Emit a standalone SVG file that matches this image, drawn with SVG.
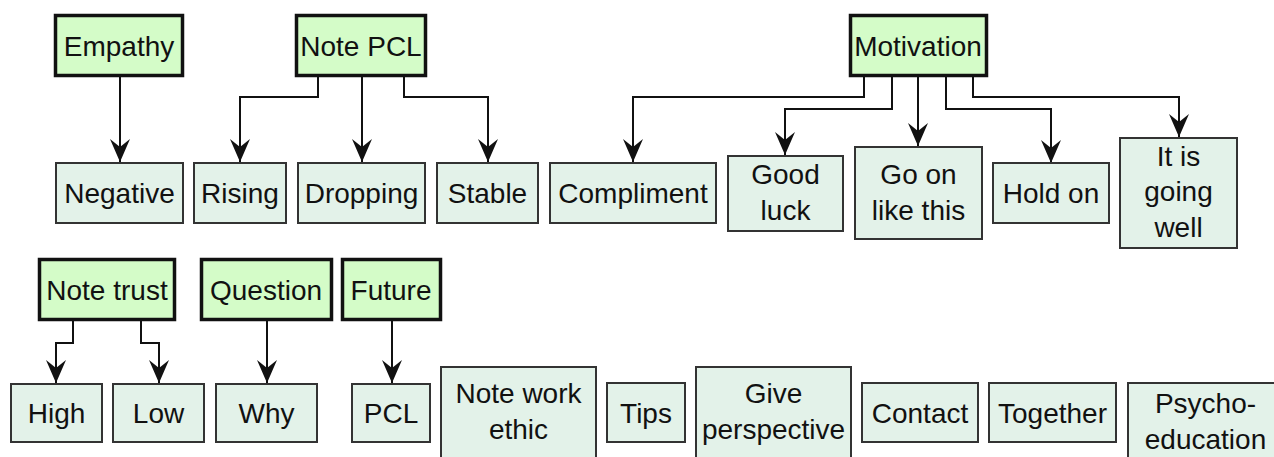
<svg xmlns="http://www.w3.org/2000/svg" width="1274" height="457" viewBox="0 0 1274 457">
<defs>
<style>
.top rect{fill:#d4fcc8;stroke:#111;stroke-width:3.5}
.leaf rect{fill:#e3f2e9;stroke:#333;stroke-width:2}
text{font-family:"Liberation Sans",Arial,sans-serif;font-size:28px;fill:#111;text-anchor:middle}
.conn path{fill:none;stroke:#111;stroke-width:2;marker-end:url(#arr)}
</style>
<marker id="arr" markerUnits="userSpaceOnUse" markerWidth="26" markerHeight="22" viewBox="-24 -11 26 22" refX="0" refY="0" orient="auto">
<path d="M0,0 L-23,-10 L-15,0 L-23,10 Z" fill="#111"/>
</marker>
</defs>
<rect width="1274" height="457" fill="#fff"/>
<g id="connectors" class="conn">
<path d="M120,77 V162"/>
<path d="M318,77 V97 H240 V162"/>
<path d="M362,77 V162"/>
<path d="M404,77 V97 H488 V162"/>
<path d="M864,77 V97 H633 V162"/>
<path d="M892,77 V109 H785 V155"/>
<path d="M918,77 V146"/>
<path d="M946,77 V109 H1051 V163"/>
<path d="M973,77 V97 H1179 V137"/>
<path d="M73,321 V343 H56 V383"/>
<path d="M141,321 V343 H159 V383"/>
<path d="M267,321 V383"/>
<path d="M392,321 V383"/>
</g>
<g id="empathy" class="top"><rect x="55.5" y="15.5" width="127" height="60"/><text x="119" y="56">Empathy</text></g>
<g id="note-pcl" class="top"><rect x="296.5" y="15.5" width="129" height="60"/><text x="361" y="56">Note PCL</text></g>
<g id="motivation" class="top"><rect x="850.5" y="15.5" width="136" height="60"/><text x="918" y="56">Motivation</text></g>
<g id="note-trust" class="top"><rect x="39.5" y="259.5" width="135" height="60"/><text x="107" y="300">Note trust</text></g>
<g id="question" class="top"><rect x="201.5" y="259.5" width="130" height="60"/><text x="266" y="300">Question</text></g>
<g id="future" class="top"><rect x="342.5" y="259.5" width="98" height="60"/><text x="391" y="300">Future</text></g>

<g id="negative" class="leaf"><rect x="56" y="163" width="127" height="60"/><text x="119.5" y="203">Negative</text></g>
<g id="rising" class="leaf"><rect x="194" y="163" width="92" height="60"/><text x="240" y="203">Rising</text></g>
<g id="dropping" class="leaf"><rect x="298" y="163" width="127" height="60"/><text x="361.5" y="203">Dropping</text></g>
<g id="stable" class="leaf"><rect x="437" y="163" width="101" height="60"/><text x="487.5" y="203">Stable</text></g>
<g id="compliment" class="leaf"><rect x="550" y="163" width="166" height="60"/><text x="633" y="203">Compliment</text></g>
<g id="good-luck" class="leaf"><rect x="728" y="156" width="115" height="75"/><text x="785.5" y="184">Good</text><text x="785.5" y="220">luck</text></g>
<g id="go-on" class="leaf"><rect x="855" y="147" width="127" height="92"/><text x="918.5" y="184">Go on</text><text x="918.5" y="220">like this</text></g>
<g id="hold-on" class="leaf"><rect x="993" y="163" width="116" height="60"/><text x="1051" y="203">Hold on</text></g>
<g id="going-well" class="leaf"><rect x="1120" y="138" width="117" height="110"/><text x="1178.5" y="166">It is</text><text x="1178.5" y="201">going</text><text x="1178.5" y="237">well</text></g>

<g id="high" class="leaf"><rect x="11" y="384" width="91" height="58"/><text x="56.5" y="423">High</text></g>
<g id="low" class="leaf"><rect x="113" y="384" width="91" height="58"/><text x="158.5" y="423">Low</text></g>
<g id="why" class="leaf"><rect x="216" y="384" width="101" height="58"/><text x="266.5" y="423">Why</text></g>
<g id="pcl" class="leaf"><rect x="352" y="384" width="78" height="58"/><text x="391" y="423">PCL</text></g>
<g id="note-work-ethic" class="leaf"><rect x="441" y="367" width="155" height="95"/><text x="518.5" y="403">Note work</text><text x="518.5" y="439">ethic</text></g>
<g id="tips" class="leaf"><rect x="607" y="383" width="78" height="59"/><text x="646" y="423">Tips</text></g>
<g id="give-perspective" class="leaf"><rect x="696" y="367" width="155" height="95"/><text x="773.5" y="403">Give</text><text x="773.5" y="439">perspective</text></g>
<g id="contact" class="leaf"><rect x="862" y="383" width="116" height="59"/><text x="920" y="423">Contact</text></g>
<g id="together" class="leaf"><rect x="989" y="383" width="127" height="59"/><text x="1052.5" y="423">Together</text></g>
<g id="psycho-education" class="leaf"><rect x="1128" y="383" width="155" height="80"/><text x="1205.5" y="413">Psycho-</text><text x="1205.5" y="449">education</text></g>
</svg>
